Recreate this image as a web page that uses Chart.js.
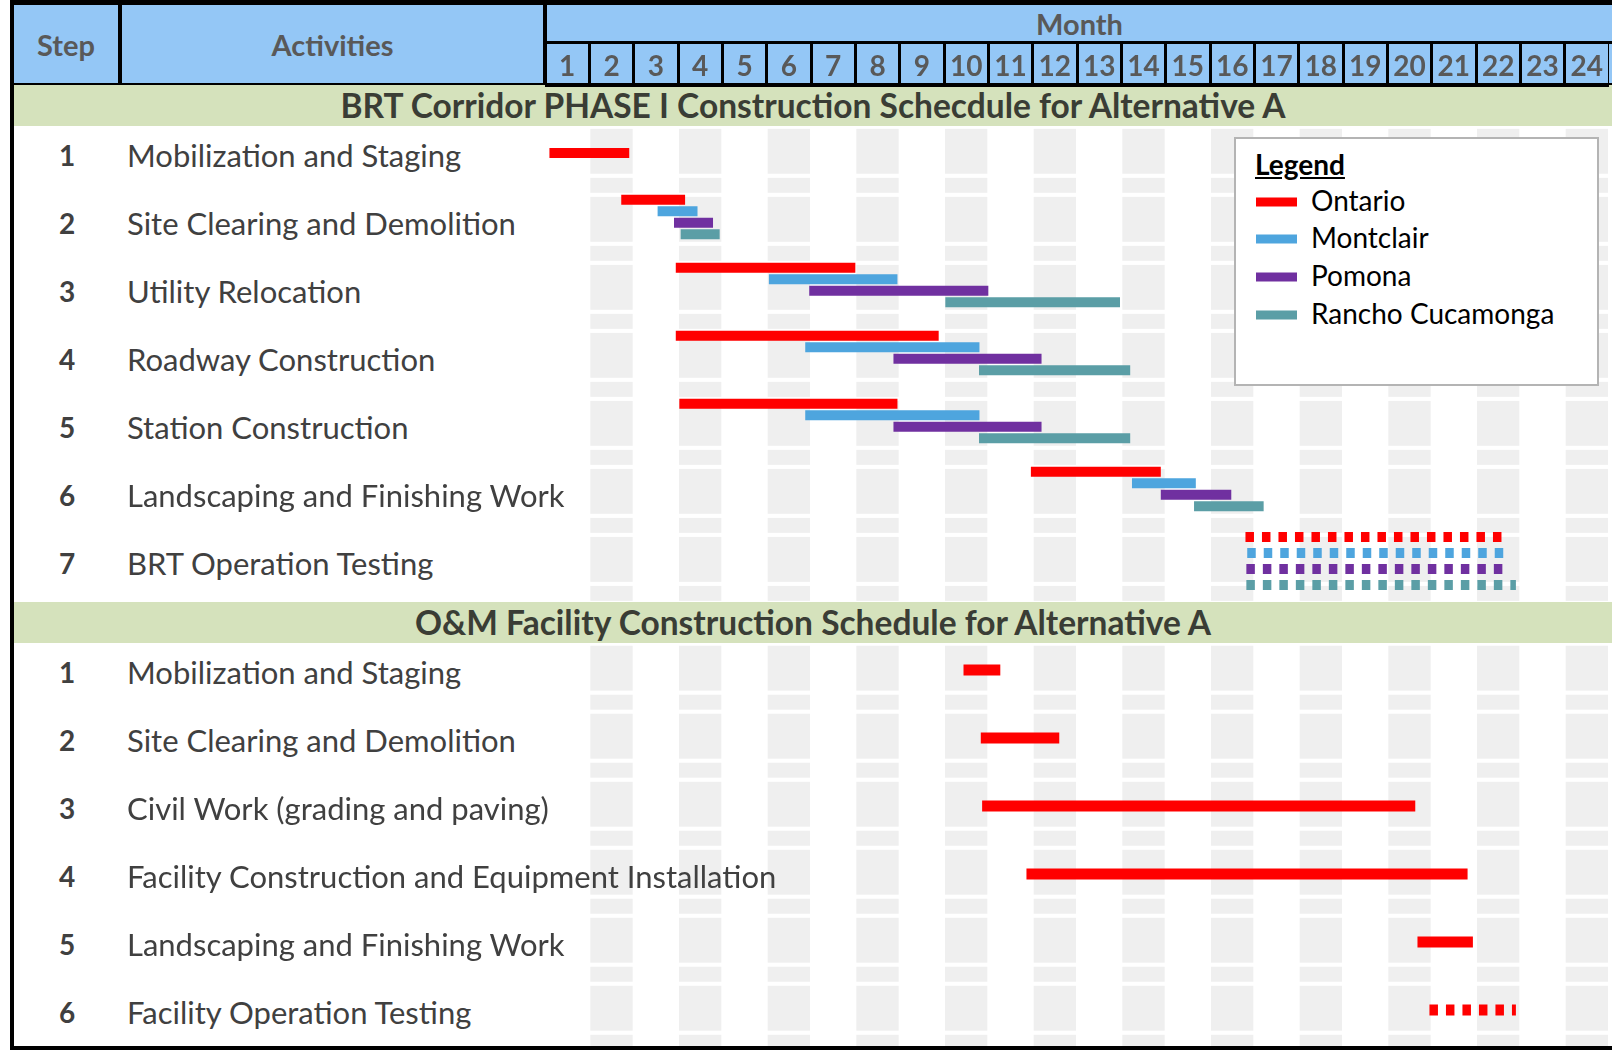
<!DOCTYPE html>
<html>
<head>
<meta charset="utf-8">
<title>BRT Corridor Construction Schedule - Alternative A</title>
<script src="https://cdn.jsdelivr.net/npm/chart.js@4.4.1/dist/chart.umd.min.js"></script>
<style>
  html, body { margin: 0; padding: 0; }
  body { width: 1612px; height: 1050px; position: relative; overflow: hidden; background: #fff;
         font-family: Lato, 'Open Sans', sans-serif; }
  .black { position: absolute; background: #000; }
  .head { position: absolute; background: #94c7f6; color: #595959; font-weight: bold; font-size: 29px;
          display: flex; align-items: center; justify-content: center; }
  .band { position: absolute; left: 14px; width: 1598px; background: #d5e2bc; color: #3a3d35;
          font-weight: bold; font-size: 33.5px; display: flex; align-items: center; justify-content: center; }
  .lbl { position: absolute; transform: translateY(-50%); color: #404040; white-space: nowrap; line-height: 1.2; z-index: 3; }
  .step { font-weight: bold; font-size: 28px; width: 40px; left: 47px; text-align: center; }
  .act { font-size: 31px; left: 127px; }
  #chartBox { position: absolute; left: 545px; top: 42px; width: 1064px; height: 1004px; z-index: 2; }
  #legend { position: absolute; left: 1234px; top: 137px; width: 365px; height: 249px; background: #fff;
            border: 2px solid #b4b4b4; box-sizing: border-box; z-index: 3; }
  #legend .title { position: absolute; left: 19px; top: 25px; transform: translateY(-50%);
                   font-weight: bold; font-size: 28px; text-decoration: underline; color: #000; }
  #legend .sw { position: absolute; left: 20px; width: 41px; height: 9px; transform: translateY(-50%); }
  #legend .name { position: absolute; left: 75px; transform: translateY(-50%); font-size: 28px; color: #000; white-space: nowrap; }
</style>
</head>
<body>

<!-- ===== TABLE FRAME ===== -->
<div class="black" style="left:10px;top:0;width:1602px;height:5px"></div>
<div class="black" style="left:10px;top:0;width:4px;height:1050px"></div>
<div class="head" style="left:14px;top:5px;width:104px;height:78px">Step</div>
<div class="head" style="left:122px;top:5px;width:421px;height:78px">Activities</div>
<div class="head" style="left:547px;top:5px;width:1065px;height:36px">Month</div>
<div class="head" style="left:547px;top:44px;width:1065px;height:40px"></div>
<div class="black" style="left:118px;top:5px;width:4px;height:80px"></div>
<div class="black" style="left:543px;top:5px;width:4px;height:80px"></div>
<div class="black" style="left:547px;top:41px;width:1065px;height:3px"></div>
<div class="black" style="left:14px;top:83px;width:1598px;height:3px"></div>
<div class="black" style="left:10px;top:1046px;width:1602px;height:4px"></div>

<div id="chartBox"><canvas id="gantt"></canvas></div>
<div id="legend"><div class="title">Legend</div></div>

<script>
// ===== DATA =====
const months = ['1','2','3','4','5','6','7','8','9','10','11','12',
                '13','14','15','16','17','18','19','20','21','22','23','24'];
const cities = ['Ontario', 'Montclair', 'Pomona', 'Rancho Cucamonga'];

const brtTitle = 'BRT Corridor PHASE I Construction Schecdule for Alternative A';
const omTitle = 'O&M Facility Construction Schedule for Alternative A';

const brtSteps = ['Mobilization and Staging', 'Site Clearing and Demolition', 'Utility Relocation',
                  'Roadway Construction', 'Station Construction', 'Landscaping and Finishing Work',
                  'BRT Operation Testing'];
const omSteps = ['Mobilization and Staging', 'Site Clearing and Demolition', 'Civil Work (grading and paving)',
                 'Facility Construction and Equipment Installation', 'Landscaping and Finishing Work',
                 'Facility Operation Testing'];

// [start, end] in months from the start of month 1, one entry per step (null = no bar)
const ontarioBRT   = [[0.1, 1.9], [1.72, 3.16], [2.95, 7.0], [2.95, 8.88], [3.03, 7.95], [10.96, 13.89], [15.8, 21.68]];
const montclairBRT = [null, [2.54, 3.44], [5.05, 7.95], [5.87, 9.8], [5.87, 9.8], [13.24, 14.68], [15.84, 21.72]];
const pomonaBRT    = [null, [2.91, 3.79], [5.96, 10.0], [7.86, 11.2], [7.86, 11.2], [13.89, 15.48], [15.82, 21.68]];
const ranchoBRT    = [null, [3.06, 3.94], [9.03, 12.97], [9.79, 13.2], [9.79, 13.2], [14.64, 16.21], [15.82, 21.9]];
const ontarioOM    = [[9.44, 10.27], [9.83, 11.6], [9.86, 19.63], [10.86, 20.81], [19.68, 20.93], [19.95, 21.9]];

// ===== LAYOUT / STYLE =====
const cityColors = ['#ff0000', '#4ea5de', '#7030a0', '#5b9ea6'];
const BAND = 0.6;                 // green title band height, in rows
const brtTop = i => BAND + i;
const omTop = i => BAND + brtSteps.length + BAND + i;
const Y_MAX = 14.13;

const brtSeries = [ontarioBRT, montclairBRT, pomonaBRT, ranchoBRT];
const lastBRT = brtSteps.length - 1;

function laneY(step, city) {
  const active = brtSeries.filter(s => s[step]).length;
  if (active === 1) return brtTop(step) + 0.4;
  if (step === lastBRT) return brtTop(step) + 0.4 + (city - 1.5) * 0.235;   // testing rows spread out
  return brtTop(step) + 0.34 + (city - 1.5) * 0.169;
}

// turn [start,end] list into line segments separated by gaps
function segments(list, yOf, keep) {
  const pts = [];
  list.forEach((r, i) => {
    if (!r || !keep(i)) return;
    const y = yOf(i);
    pts.push({ x: r[0], y }, { x: r[1], y }, { x: r[1], y: null });
  });
  return pts;
}

const datasets = [];
brtSeries.forEach((series, c) => {
  datasets.push({
    label: cities[c],
    data: segments(series, i => laneY(i, c), i => i !== lastBRT),
    borderColor: cityColors[c], borderWidth: 10
  });
  datasets.push({
    label: cities[c] + ' testing',
    data: segments(series, i => laneY(i, c), i => i === lastBRT),
    borderColor: cityColors[c], borderWidth: 10, borderDash: [8.5, 8]
  });
});
datasets.push({
  label: 'Ontario O&M',
  data: segments(ontarioOM, i => omTop(i) + 0.4, i => i !== ontarioOM.length - 1),
  borderColor: cityColors[0], borderWidth: 11
});
datasets.push({
  label: 'Ontario O&M testing',
  data: segments(ontarioOM, i => omTop(i) + 0.4, i => i === ontarioOM.length - 1),
  borderColor: cityColors[0], borderWidth: 11, borderDash: [8.5, 8]
});

// light grey blocks on every other month column
const stripes = {
  id: 'stripes',
  beforeDatasetsDraw(chart) {
    const { ctx, scales: { x, y } } = chart;
    const rows = brtSteps.map((s, i) => brtTop(i)).concat(omSteps.map((s, i) => omTop(i)));
    ctx.save();
    ctx.fillStyle = '#efefef';
    rows.forEach(top => {
      for (let m = 1; m < months.length; m += 2) {
        const x0 = x.getPixelForValue(m) + 1, x1 = x.getPixelForValue(m + 1) - 1;
        [[0.045, 0.705], [0.765, 0.985]].forEach(([a, b]) => {
          const y0 = y.getPixelForValue(top + a), y1 = y.getPixelForValue(top + b);
          ctx.fillRect(x0, y0, x1 - x0, y1 - y0);
        });
      }
    });
    ctx.restore();
  }
};

const chart = new Chart(document.getElementById('gantt'), {
  type: 'line',
  data: { datasets },
  options: {
    responsive: true,
    maintainAspectRatio: false,
    animation: false,
    layout: { padding: 0 },
    datasets: { line: { pointRadius: 0, borderCapStyle: 'butt', tension: 0, spanGaps: false, fill: false } },
    plugins: { legend: { display: false }, tooltip: { enabled: false } },
    scales: {
      x: { type: 'linear', min: 0, max: months.length, display: false },
      y: { type: 'linear', min: 0, max: Y_MAX, reverse: true, display: false },
      x2: {
        type: 'category', labels: months, position: 'top', offset: true,
        grid: { offset: true, drawOnChartArea: false, drawTicks: true, tickLength: 42, color: '#000', lineWidth: 3 },
        border: { display: true, color: '#000', width: 3 },
        ticks: { color: '#595959', autoSkip: false, maxRotation: 0, minRotation: 0, padding: -41,
                 font: { family: 'Lato', size: 28, weight: 'bold' } },
        afterFit: s => { s.height = 43; }
      }
    }
  },
  plugins: [stripes]
});

// ===== ROW LABELS, BANDS, LEGEND (placed from the y scale) =====
const yScale = chart.scales.y;
const boxTop = 42;
const pageY = v => yScale.getPixelForValue(v) + boxTop;

function addBand(top, h, text) {
  const d = document.createElement('div');
  d.className = 'band';
  d.style.top = pageY(top) + 'px';
  d.style.height = (pageY(top + h) - pageY(top)) + 'px';
  d.textContent = text;
  document.body.appendChild(d);
}
function addLabel(cls, y, text) {
  const d = document.createElement('div');
  d.className = 'lbl ' + cls;
  d.style.top = y + 'px';
  d.textContent = text;
  document.body.appendChild(d);
}

addBand(0, BAND, brtTitle);
addBand(BAND + brtSteps.length, BAND, omTitle);
brtSteps.forEach((s, i) => {
  const y = pageY(brtTop(i) + 0.44);
  addLabel('step', y, String(i + 1));
  addLabel('act', y, s);
});
omSteps.forEach((s, i) => {
  const y = pageY(omTop(i) + 0.45);
  addLabel('step', y, String(i + 1));
  addLabel('act', y, s);
});

const legend = document.getElementById('legend');
cities.forEach((c, i) => {
  const cy = 60.5 + i * 37.7;
  const sw = document.createElement('div');
  sw.className = 'sw';
  sw.style.top = (cy + 2) + 'px';
  sw.style.background = cityColors[i];
  const nm = document.createElement('div');
  nm.className = 'name';
  nm.style.top = cy + 'px';
  nm.textContent = c;
  legend.appendChild(sw);
  legend.appendChild(nm);
});
</script>
</body>
</html>
